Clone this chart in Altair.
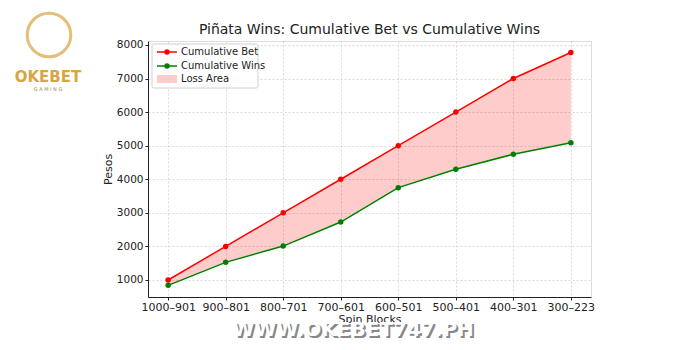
import altair as alt
import pandas as pd

blocks = ["1000–901", "900–801", "800–701", "700–601", "600–501", "500–401", "400–301", "300–223"]
cum_bet = [1000, 2000, 3000, 4000, 5000, 6000, 7000, 7775]
cum_wins = [840, 1525, 2010, 2725, 3750, 4300, 4745, 5090]
y_ticks = [1000, 2000, 3000, 4000, 5000, 6000, 7000, 8000]
title_text = "Piñata Wins: Cumulative Bet vs Cumulative Wins"

df = pd.DataFrame({"block": blocks, "bet": cum_bet, "wins": cum_wins})

W, H = 443, 256
FONT = "DejaVu Sans"

xenc = alt.X("block:N", sort=blocks, title="Spin Blocks",
             scale=alt.Scale(type="point", padding=0.35),
             axis=alt.Axis(labelAngle=0, labelFontSize=11, titleFontSize=11,
                           labelColor="#222", titleColor="#222", domainColor="#222",
                           tickColor="#222", tickSize=3, labelPadding=1, titlePadding=1,
                           grid=True, gridColor="#d0d0d0", gridDash=[2, 2], gridWidth=0.8,
                           labelFont=FONT, titleFont=FONT, titleFontWeight="normal"))
yscale = alt.Scale(domain=[493, 8118], nice=False, zero=False)
yaxis = alt.Axis(values=y_ticks, tickCount=8, format="d", labelOverlap=False, labelFontSize=10.5,
                 titleFontSize=11, labelColor="#222",
                 titleColor="#222", domainColor="#222", tickColor="#222", tickSize=3,
                 labelPadding=2, titlePadding=3, grid=True, gridColor="#d0d0d0",
                 gridDash=[2, 2], gridWidth=0.8, labelFont=FONT, titleFont=FONT,
                 titleFontWeight="normal")

base = alt.Chart(df)
area = base.mark_area(color="red", opacity=0.2).encode(
    x=xenc, y=alt.Y("bet:Q", scale=yscale, axis=yaxis, title="Pesos"), y2="wins:Q")
bet_line = base.mark_line(color="red", strokeWidth=1.5).encode(
    x=xenc, y=alt.Y("bet:Q", scale=yscale, axis=yaxis, title="Pesos"))
bet_pts = base.mark_circle(color="red", size=30, opacity=1).encode(
    x=xenc, y=alt.Y("bet:Q", scale=yscale, axis=yaxis, title="Pesos"))
win_line = base.mark_line(color="green", strokeWidth=1.5).encode(
    x=xenc, y=alt.Y("wins:Q", scale=yscale, axis=yaxis, title="Pesos"))
win_pts = base.mark_circle(color="green", size=30, opacity=1).encode(
    x=xenc, y=alt.Y("wins:Q", scale=yscale, axis=yaxis, title="Pesos"))

# legend (manual)
one = pd.DataFrame({"a": [0]})
L = alt.Chart(one)
leg_box = L.mark_rect(fill="white", stroke="#cccccc", strokeWidth=1, cornerRadius=2, opacity=0.9).encode(
    x=alt.value(4), x2=alt.value(110), y=alt.value(3), y2=alt.value(47))
leg = [leg_box]
entries = [("Cumulative Bet", "red", 11), ("Cumulative Wins", "green", 25)]
for label, col, yy in entries:
    leg.append(L.mark_rule(color=col, strokeWidth=1.5).encode(
        x=alt.value(9), x2=alt.value(29), y=alt.value(yy)))
    leg.append(L.mark_circle(color=col, size=30, opacity=1).encode(
        x=alt.value(19), y=alt.value(yy)))
    leg.append(L.mark_text(align="left", baseline="middle", fontSize=10, font=FONT, color="#222").encode(
        x=alt.value(33), y=alt.value(yy), text=alt.value(label)))
leg.append(L.mark_rect(color="red", opacity=0.2).encode(
    x=alt.value(9), x2=alt.value(29), y=alt.value(34), y2=alt.value(42)))
leg.append(L.mark_text(align="left", baseline="middle", fontSize=10, font=FONT, color="#222").encode(
    x=alt.value(33), y=alt.value(38), text=alt.value("Loss Area")))

# title as text
title = L.mark_text(fontSize=14, font=FONT, color="#222", baseline="middle").encode(
    x=alt.value(W / 2), y=alt.value(-11), text=alt.value(title_text))

# logo and watermark (decorative)
logo = [
    L.mark_point(shape="circle", size=1900, filled=False, stroke="#d9a441", strokeWidth=3).encode(
        x=alt.value(-99), y=alt.value(-6)),
    L.mark_text(fontSize=15, fontWeight="bold", font=FONT, color="#d9a441").encode(
        x=alt.value(-100), y=alt.value(36), text=alt.value("OKEBET")),
    L.mark_text(fontSize=5, font=FONT, color="#9a8a6a").encode(
        x=alt.value(-100), y=alt.value(48), text=alt.value("G A M I N G")),
    L.mark_text(fontSize=20, fontWeight="bold", font=FONT, color="#888888").encode(
        x=alt.value(207), y=alt.value(291), text=alt.value("WWW.OKEBET747.PH")),
    L.mark_text(fontSize=20, fontWeight="bold", font=FONT, color="#ffffff").encode(
        x=alt.value(205), y=alt.value(289), text=alt.value("WWW.OKEBET747.PH")),
]

chart = alt.layer(area, bet_line, win_line, bet_pts, win_pts, *leg, title, *logo).properties(
    width=W, height=H,
    autosize=alt.AutoSizeParams(type="none"),
    padding={"left": 148, "top": 41, "right": 109, "bottom": 53},
).configure_view(stroke=None).configure(background="white").configure_axisY(labelOverlap=False)

chart.save("out.html", embed_options={"renderer": "svg", "actions": False})
